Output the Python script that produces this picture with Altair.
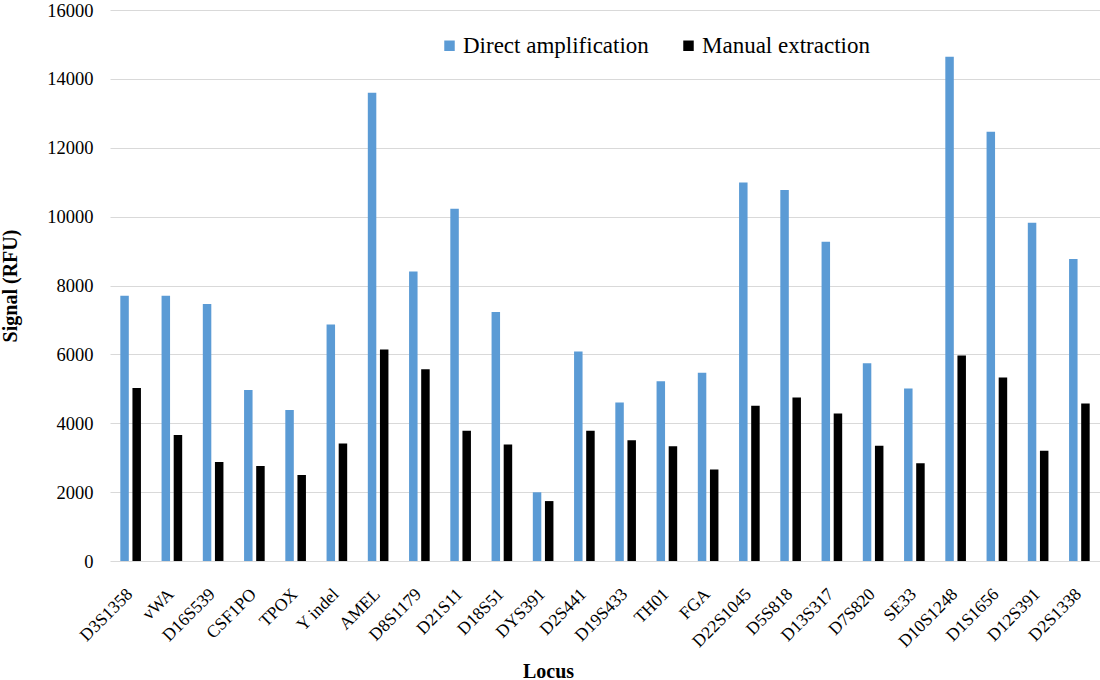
import altair as alt
import pandas as pd

loci = ["D3S1358", "vWA", "D16S539", "CSF1PO", "TPOX", "Y indel", "AMEL",
        "D8S1179", "D21S11", "D18S51", "DYS391", "D2S441", "D19S433", "TH01",
        "FGA", "D22S1045", "D5S818", "D13S317", "D7S820", "SE33", "D10S1248",
        "D1S1656", "D12S391", "D2S1338"]
direct_amp = [7700, 7700, 7460, 4965, 4385, 6870, 13600, 8410, 10230, 7230,
              1995, 6085, 4600, 5220, 5465, 10990, 10770, 9270, 5740, 5010,
              14640, 12465, 9820, 8770]
manual_ext = [5020, 3660, 2875, 2760, 2500, 3410, 6140, 5565, 3780, 3385,
              1740, 3780, 3505, 3330, 2660, 4510, 4745, 4280, 3350, 2835,
              5970, 5330, 3200, 4570]
series = ["Direct amplification", "Manual extraction"]
colors = ["#5B9BD5", "#000000"]

rows = []
for i, l in enumerate(loci):
    rows.append({"Locus": l, "Method": series[0], "Signal": direct_amp[i]})
    rows.append({"Locus": l, "Method": series[1], "Signal": manual_ext[i]})
df = pd.DataFrame(rows)

FONT = "Liberation Serif"

chart = alt.Chart(df).mark_bar().encode(
    x=alt.X("Locus:N", sort=loci,
            scale=alt.Scale(paddingInner=0.5, paddingOuter=0.25),
            axis=alt.Axis(title="Locus", labelAngle=-45, labelFontSize=17.5,
                          labelFont=FONT, labelColor="#000000", labelPadding=24,
                          labelOffset=-7, labelLimit=0,
                          titleFont=FONT, titleFontSize=20, titleFontWeight="bold",
                          titleColor="#000000", titleX=438, titleY=110,
                          titleAlign="center", titleBaseline="middle",
                          domain=False, ticks=False, grid=False)),
    xOffset=alt.XOffset("Method:N", sort=series,
                        scale=alt.Scale(paddingInner=0.3)),
    y=alt.Y("Signal:Q",
            scale=alt.Scale(domain=[0, 16000], nice=False),
            axis=alt.Axis(title="Signal (RFU)", values=list(range(0, 16001, 2000)),
                          format="d",
                          labelFont=FONT, labelFontSize=18.5, labelColor="#000000",
                          labelPadding=17, titleFont=FONT, titleFontSize=20,
                          titleFontWeight="bold", titleColor="#000000",
                          titlePadding=26, domain=False, ticks=False,
                          gridColor="#d9d9d9", gridWidth=1.2)),
    color=alt.Color("Method:N", sort=series,
                    scale=alt.Scale(domain=series, range=colors),
                    legend=alt.Legend(title=None, orient="none", direction="horizontal",
                                      legendX=328, legendY=24, symbolType="square",
                                      symbolSize=110, symbolStrokeWidth=0,
                                      labelFont=FONT, labelFontSize=23,
                                      labelLimit=0,
                                      labelColor="#000000", labelOffset=2,
                                      columnPadding=28, padding=0)),
).properties(
    width=990, height=551,
    autosize=alt.AutoSizeParams(type="none"),
    padding={"left": 110, "top": 10, "right": 0, "bottom": 119},
).configure(
    background="white", font=FONT
).configure_view(stroke=None).configure_legend(labelFont=FONT)

chart.save("out.html", embed_options={"renderer": "svg", "actions": False})
